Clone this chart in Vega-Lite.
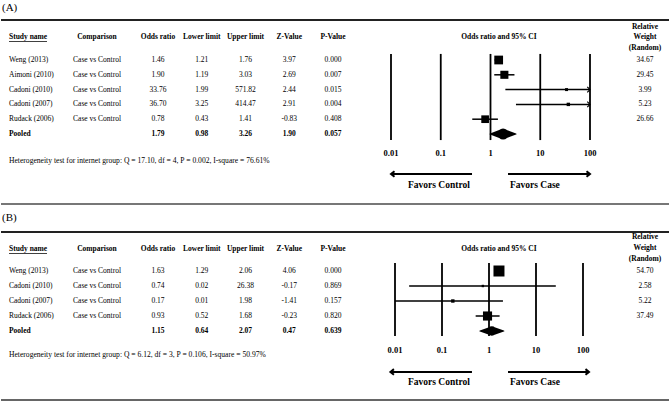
{
  "$schema": "https://vega.github.io/schema/vega-lite/v6.json",
  "padding": 0,
  "spacing": 0,
  "background": "white",
  "config": {
    "view": {"stroke": null},
    "font": "Liberation Serif",
    "axis": {"disable": true},
    "legend": {"disable": true},
    "text": {"font": "Liberation Serif", "color": "black", "fontSize": 7.5},
    "locale": {"number": {"decimal": ".", "thousands": ",", "grouping": [3], "currency": ["$", ""], "minus": "-"}}
  },
  "datasets": {
    "A": [
      {"Study name": "Weng (2013)", "Comparison": "Case vs Control", "Odds ratio": 1.46, "Lower limit": 1.21, "Upper limit": 1.76, "Z-Value": 3.97, "P-Value": 0.000, "Relative Weight": 34.67, "row": 1},
      {"Study name": "Aimoni (2010)", "Comparison": "Case vs Control", "Odds ratio": 1.90, "Lower limit": 1.19, "Upper limit": 3.03, "Z-Value": 2.69, "P-Value": 0.007, "Relative Weight": 29.45, "row": 2},
      {"Study name": "Cadoni (2010)", "Comparison": "Case vs Control", "Odds ratio": 33.76, "Lower limit": 1.99, "Upper limit": 571.82, "Z-Value": 2.44, "P-Value": 0.015, "Relative Weight": 3.99, "row": 3},
      {"Study name": "Cadoni (2007)", "Comparison": "Case vs Control", "Odds ratio": 36.70, "Lower limit": 3.25, "Upper limit": 414.47, "Z-Value": 2.91, "P-Value": 0.004, "Relative Weight": 5.23, "row": 4},
      {"Study name": "Rudack (2006)", "Comparison": "Case vs Control", "Odds ratio": 0.78, "Lower limit": 0.43, "Upper limit": 1.41, "Z-Value": -0.83, "P-Value": 0.408, "Relative Weight": 26.66, "row": 5},
      {"Study name": "Pooled", "Comparison": "", "Odds ratio": 1.79, "Lower limit": 0.98, "Upper limit": 3.26, "Z-Value": 1.90, "P-Value": 0.057, "Relative Weight": null, "row": 6}
    ],
    "B": [
      {"Study name": "Weng (2013)", "Comparison": "Case vs Control", "Odds ratio": 1.63, "Lower limit": 1.29, "Upper limit": 2.06, "Z-Value": 4.06, "P-Value": 0.000, "Relative Weight": 54.70, "row": 1},
      {"Study name": "Cadoni (2010)", "Comparison": "Case vs Control", "Odds ratio": 0.74, "Lower limit": 0.02, "Upper limit": 26.38, "Z-Value": -0.17, "P-Value": 0.869, "Relative Weight": 2.58, "row": 2},
      {"Study name": "Cadoni (2007)", "Comparison": "Case vs Control", "Odds ratio": 0.17, "Lower limit": 0.01, "Upper limit": 1.98, "Z-Value": -1.41, "P-Value": 0.157, "Relative Weight": 5.22, "row": 3},
      {"Study name": "Rudack (2006)", "Comparison": "Case vs Control", "Odds ratio": 0.93, "Lower limit": 0.52, "Upper limit": 1.68, "Z-Value": -0.23, "P-Value": 0.820, "Relative Weight": 37.49, "row": 4},
      {"Study name": "Pooled", "Comparison": "", "Odds ratio": 1.15, "Lower limit": 0.64, "Upper limit": 2.07, "Z-Value": 0.47, "P-Value": 0.639, "Relative Weight": null, "row": 5}
    ]
  },
  "vconcat": [
    {
      "width": 669,
      "height": 206,
      "resolve": {"scale": {"x": "independent"}},
      "layer": [
        {"data": {"values": [{}]}, "mark": {"type": "rule", "stroke": "#222", "strokeWidth": 2},
          "encoding": {"y": {"datum": -1.7, "type": "quantitative", "scale": {"domain": [-3.054, 10.865], "reverse": true, "nice": false, "zero": false}}}},
        {"data": {"values": [{}]}, "mark": {"type": "rule", "stroke": "#777", "strokeWidth": 2},
          "encoding": {"y": {"datum": 10.73, "type": "quantitative"}}},
        {
          "data": {"name": "A"},
          "layer": [
            {"transform": [{"filter": "datum['Study name'] !== 'Pooled'"}],
              "mark": {"type": "text", "align": "left"},
              "encoding": {
                "x": {"datum": "Study name", "type": "nominal", "scale": {"type": "point", "domain": ["Study name", "Comparison"], "range": [8, 96], "padding": 0}},
                "y": {"field": "row", "type": "quantitative"},
                "text": {"field": "Study name"}}},
            {"transform": [{"filter": "datum['Study name'] === 'Pooled'"}],
              "mark": {"type": "text", "align": "left", "fontWeight": "bold"},
              "encoding": {"x": {"datum": "Study name", "type": "nominal"}, "y": {"field": "row", "type": "quantitative"}, "text": {"field": "Study name"}}},
            {"mark": {"type": "text"},
              "encoding": {"x": {"datum": "Comparison", "type": "nominal"}, "y": {"field": "row", "type": "quantitative"}, "text": {"field": "Comparison"}}},
            {"data": {"values": [{}]}, "mark": {"type": "text", "align": "left", "fontWeight": "bold", "text": "Study name"},
              "encoding": {"x": {"datum": "Study name", "type": "nominal"}, "y": {"datum": -0.55}}},
            {"data": {"values": [{}]}, "mark": {"type": "tick", "orient": "horizontal", "size": 38, "thickness": 0.8, "xOffset": 19, "yOffset": 4.5, "color": "black", "opacity": 1},
              "encoding": {"x": {"datum": "Study name", "type": "nominal"}, "y": {"datum": -0.55}}},
            {"data": {"values": [{}]}, "mark": {"type": "text", "fontWeight": "bold", "text": "Comparison"},
              "encoding": {"x": {"datum": "Comparison", "type": "nominal"}, "y": {"datum": -0.55}}},
            {"data": {"values": [{}]}, "mark": {"type": "text", "align": "left", "fontSize": 11, "dx": -7, "text": "(A)"},
              "encoding": {"x": {"datum": "Study name", "type": "nominal"}, "y": {"datum": -2.51}}},
            {"data": {"values": [{}]}, "mark": {"type": "text", "align": "left", "fontSize": 7.6, "text": "Heterogeneity test for internet group: Q = 17.10, df = 4, P = 0.002, I-square = 76.61%"},
              "encoding": {"x": {"datum": "Study name", "type": "nominal"}, "y": {"datum": 7.82}}}
          ]
        },
        {
          "data": {"name": "A"},
          "layer": [
            {"transform": [{"filter": "datum['Study name'] !== 'Pooled'"}, {"fold": ["Odds ratio", "Lower limit", "Upper limit", "Z-Value"], "as": ["col", "val"]}],
              "mark": {"type": "text"},
              "encoding": {
                "x": {"field": "col", "type": "nominal", "scale": {"type": "point", "domain": ["Odds ratio", "Lower limit", "Upper limit", "Z-Value", "P-Value"], "range": [157, 332], "padding": 0}},
                "y": {"field": "row", "type": "quantitative"},
                "text": {"field": "val", "type": "quantitative", "format": ".2f"}}},
            {"transform": [{"filter": "datum['Study name'] === 'Pooled'"}, {"fold": ["Odds ratio", "Lower limit", "Upper limit", "Z-Value"], "as": ["col", "val"]}],
              "mark": {"type": "text", "fontWeight": "bold"},
              "encoding": {"x": {"field": "col", "type": "nominal"}, "y": {"field": "row", "type": "quantitative"}, "text": {"field": "val", "type": "quantitative", "format": ".2f"}}},
            {"transform": [{"filter": "datum['Study name'] !== 'Pooled'"}],
              "mark": {"type": "text"},
              "encoding": {"x": {"datum": "P-Value", "type": "nominal"}, "y": {"field": "row", "type": "quantitative"}, "text": {"field": "P-Value", "type": "quantitative", "format": ".3f"}}},
            {"transform": [{"filter": "datum['Study name'] === 'Pooled'"}],
              "mark": {"type": "text", "fontWeight": "bold"},
              "encoding": {"x": {"datum": "P-Value", "type": "nominal"}, "y": {"field": "row", "type": "quantitative"}, "text": {"field": "P-Value", "type": "quantitative", "format": ".3f"}}},
            {"transform": [{"fold": ["Odds ratio", "Lower limit", "Upper limit", "Z-Value", "P-Value"], "as": ["col", "val"]}, {"aggregate": [{"op": "count", "as": "n"}], "groupby": ["col"]}],
              "mark": {"type": "text", "fontWeight": "bold"},
              "encoding": {"x": {"field": "col", "type": "nominal"}, "y": {"datum": -0.55}, "text": {"field": "col"}}}
          ]
        },
        {
          "data": {"name": "A"},
          "layer": [
            {"transform": [{"filter": "isValid(datum['Relative Weight'])"}],
              "mark": {"type": "text"},
              "encoding": {
                "x": {"datum": "Relative Weight", "type": "nominal", "scale": {"type": "point", "domain": ["Relative Weight"], "range": [644, 644], "padding": 0}},
                "y": {"field": "row", "type": "quantitative"},
                "text": {"field": "Relative Weight", "type": "quantitative", "format": ".2f"}}},
            {"data": {"values": [{}]}, "mark": {"type": "text", "fontWeight": "bold", "lineHeight": 10.5, "text": ["Relative", "Weight", "(Random)"]},
              "encoding": {"x": {"datum": "Relative Weight", "type": "nominal"}, "y": {"datum": -1.23}}}
          ]
        },
        {
          "data": {"name": "A"},
          "layer": [
            {"data": {"values": [{"t": 0.01}, {"t": 0.1}, {"t": 1}, {"t": 10}, {"t": 100}]},
              "mark": {"type": "rule", "strokeWidth": 1.8, "color": "black"},
              "encoding": {
                "x": {"field": "t", "type": "quantitative", "scale": {"type": "log", "domain": [0.01, 100], "range": [390, 589], "clamp": true, "nice": false}},
                "y": {"datum": 0.59}, "y2": {"datum": 6.41}}},
            {"data": {"values": [{"t": 0.01}, {"t": 0.1}, {"t": 1}, {"t": 10}, {"t": 100}]},
              "mark": {"type": "text", "fontSize": 8.5, "fontWeight": "bold"},
              "encoding": {"x": {"field": "t", "type": "quantitative"}, "y": {"datum": 7.28}, "text": {"field": "t", "type": "quantitative", "format": "~g"}}},
            {"transform": [{"filter": "datum['Study name'] !== 'Pooled'"}],
              "mark": {"type": "rule", "strokeWidth": 1.5, "color": "black"},
              "encoding": {"x": {"field": "Lower limit", "type": "quantitative"}, "x2": {"field": "Upper limit"}, "y": {"field": "row", "type": "quantitative"}}},
            {"transform": [{"filter": "datum['Study name'] !== 'Pooled'"}],
              "mark": {"type": "point", "shape": "square", "filled": true, "color": "black", "opacity": 1, "strokeWidth": 0},
              "encoding": {"x": {"field": "Odds ratio", "type": "quantitative"}, "y": {"field": "row", "type": "quantitative"},
                "size": {"field": "Relative Weight", "type": "quantitative", "scale": {"domain": [0, 34.67], "range": [0, 121], "zero": true}, "legend": null}}},
            {"transform": [{"filter": "datum['Upper limit'] > 100"}],
              "mark": {"type": "point", "shape": "M-1,-1L0,0L-1,1", "filled": false, "color": "black", "opacity": 1, "size": 30, "strokeWidth": 1.2},
              "encoding": {"x": {"field": "Upper limit", "type": "quantitative"}, "y": {"field": "row", "type": "quantitative"}}},
            {"transform": [{"filter": "datum['Study name'] === 'Pooled'"}, {"fold": ["Lower limit", "Odds ratio", "Upper limit"], "as": ["col", "val"]}],
              "mark": {"type": "trail", "color": "black"},
              "encoding": {"x": {"field": "val", "type": "quantitative"}, "y": {"field": "row", "type": "quantitative"},
                "size": {"condition": {"test": "datum.col === 'Odds ratio'", "value": 11}, "value": 0}}},
            {"data": {"values": [{}]}, "mark": {"type": "text", "fontWeight": "bold", "text": "Odds ratio and 95% CI"},
              "encoding": {"x": {"datum": 1.48, "type": "quantitative"}, "y": {"datum": -0.55}}},
            {"data": {"values": [{}]}, "mark": {"type": "rule", "strokeWidth": 2, "color": "black"},
              "encoding": {"x": {"datum": 0.425, "type": "quantitative"}, "x2": {"datum": 0.01}, "y": {"datum": 8.7}}},
            {"data": {"values": [{}]}, "mark": {"type": "rule", "strokeWidth": 2, "color": "black"},
              "encoding": {"x": {"datum": 2.25, "type": "quantitative"}, "x2": {"datum": 100}, "y": {"datum": 8.7}}},
            {"data": {"values": [{}]}, "mark": {"type": "point", "shape": "M1,-0.8L0,0L1,0.8", "filled": false, "color": "black", "opacity": 1, "size": 49, "strokeWidth": 2},
              "encoding": {"x": {"datum": 0.01, "type": "quantitative"}, "y": {"datum": 8.7}}},
            {"data": {"values": [{}]}, "mark": {"type": "point", "shape": "M-1,-0.8L0,0L-1,0.8", "filled": false, "color": "black", "opacity": 1, "size": 49, "strokeWidth": 2},
              "encoding": {"x": {"datum": 100, "type": "quantitative"}, "y": {"datum": 8.7}}},
            {"data": {"values": [{}]}, "mark": {"type": "text", "fontWeight": "bold", "fontSize": 9.5, "text": "Favors Control"},
              "encoding": {"x": {"datum": 0.092, "type": "quantitative"}, "y": {"datum": 9.45}}},
            {"data": {"values": [{}]}, "mark": {"type": "text", "fontWeight": "bold", "fontSize": 9.5, "text": "Favors Case"},
              "encoding": {"x": {"datum": 7.8, "type": "quantitative"}, "y": {"datum": 9.45}}}
          ]
        }
      ]
    },
    {
      "width": 669,
      "height": 196,
      "resolve": {"scale": {"x": "independent"}},
      "layer": [
        {"data": {"values": [{}]}, "mark": {"type": "rule", "stroke": "#222", "strokeWidth": 2},
          "encoding": {"y": {"datum": -1.6, "type": "quantitative", "scale": {"domain": [-3.333, 9.733], "reverse": true, "nice": false, "zero": false}}}},
        {"data": {"values": [{}]}, "mark": {"type": "rule", "stroke": "#666", "strokeWidth": 2},
          "encoding": {"y": {"datum": 9.6, "type": "quantitative"}}},
        {
          "data": {"name": "B"},
          "layer": [
            {"transform": [{"filter": "datum['Study name'] !== 'Pooled'"}],
              "mark": {"type": "text", "align": "left"},
              "encoding": {
                "x": {"datum": "Study name", "type": "nominal", "scale": {"type": "point", "domain": ["Study name", "Comparison"], "range": [8, 96], "padding": 0}},
                "y": {"field": "row", "type": "quantitative"},
                "text": {"field": "Study name"}}},
            {"transform": [{"filter": "datum['Study name'] === 'Pooled'"}],
              "mark": {"type": "text", "align": "left", "fontWeight": "bold"},
              "encoding": {"x": {"datum": "Study name", "type": "nominal"}, "y": {"field": "row", "type": "quantitative"}, "text": {"field": "Study name"}}},
            {"mark": {"type": "text"},
              "encoding": {"x": {"datum": "Comparison", "type": "nominal"}, "y": {"field": "row", "type": "quantitative"}, "text": {"field": "Comparison"}}},
            {"data": {"values": [{}]}, "mark": {"type": "text", "align": "left", "fontWeight": "bold", "text": "Study name"},
              "encoding": {"x": {"datum": "Study name", "type": "nominal"}, "y": {"datum": -0.47}}},
            {"data": {"values": [{}]}, "mark": {"type": "tick", "orient": "horizontal", "size": 38, "thickness": 0.8, "xOffset": 19, "yOffset": 4.5, "color": "black", "opacity": 1},
              "encoding": {"x": {"datum": "Study name", "type": "nominal"}, "y": {"datum": -0.47}}},
            {"data": {"values": [{}]}, "mark": {"type": "text", "fontWeight": "bold", "text": "Comparison"},
              "encoding": {"x": {"datum": "Comparison", "type": "nominal"}, "y": {"datum": -0.47}}},
            {"data": {"values": [{}]}, "mark": {"type": "text", "align": "left", "fontSize": 11, "dx": -7, "text": "(B)"},
              "encoding": {"x": {"datum": "Study name", "type": "nominal"}, "y": {"datum": -2.53}}},
            {"data": {"values": [{}]}, "mark": {"type": "text", "align": "left", "fontSize": 7.6, "text": "Heterogeneity test for internet group: Q = 6.12, df = 3, P = 0.106, I-square = 50.97%"},
              "encoding": {"x": {"datum": "Study name", "type": "nominal"}, "y": {"datum": 6.6}}}
          ]
        },
        {
          "data": {"name": "B"},
          "layer": [
            {"transform": [{"filter": "datum['Study name'] !== 'Pooled'"}, {"fold": ["Odds ratio", "Lower limit", "Upper limit", "Z-Value"], "as": ["col", "val"]}],
              "mark": {"type": "text"},
              "encoding": {
                "x": {"field": "col", "type": "nominal", "scale": {"type": "point", "domain": ["Odds ratio", "Lower limit", "Upper limit", "Z-Value", "P-Value"], "range": [157, 332], "padding": 0}},
                "y": {"field": "row", "type": "quantitative"},
                "text": {"field": "val", "type": "quantitative", "format": ".2f"}}},
            {"transform": [{"filter": "datum['Study name'] === 'Pooled'"}, {"fold": ["Odds ratio", "Lower limit", "Upper limit", "Z-Value"], "as": ["col", "val"]}],
              "mark": {"type": "text", "fontWeight": "bold"},
              "encoding": {"x": {"field": "col", "type": "nominal"}, "y": {"field": "row", "type": "quantitative"}, "text": {"field": "val", "type": "quantitative", "format": ".2f"}}},
            {"transform": [{"filter": "datum['Study name'] !== 'Pooled'"}],
              "mark": {"type": "text"},
              "encoding": {"x": {"datum": "P-Value", "type": "nominal"}, "y": {"field": "row", "type": "quantitative"}, "text": {"field": "P-Value", "type": "quantitative", "format": ".3f"}}},
            {"transform": [{"filter": "datum['Study name'] === 'Pooled'"}],
              "mark": {"type": "text", "fontWeight": "bold"},
              "encoding": {"x": {"datum": "P-Value", "type": "nominal"}, "y": {"field": "row", "type": "quantitative"}, "text": {"field": "P-Value", "type": "quantitative", "format": ".3f"}}},
            {"transform": [{"fold": ["Odds ratio", "Lower limit", "Upper limit", "Z-Value", "P-Value"], "as": ["col", "val"]}, {"aggregate": [{"op": "count", "as": "n"}], "groupby": ["col"]}],
              "mark": {"type": "text", "fontWeight": "bold"},
              "encoding": {"x": {"field": "col", "type": "nominal"}, "y": {"datum": -0.47}, "text": {"field": "col"}}}
          ]
        },
        {
          "data": {"name": "B"},
          "layer": [
            {"transform": [{"filter": "isValid(datum['Relative Weight'])"}],
              "mark": {"type": "text"},
              "encoding": {
                "x": {"datum": "Relative Weight", "type": "nominal", "scale": {"type": "point", "domain": ["Relative Weight"], "range": [644, 644], "padding": 0}},
                "y": {"field": "row", "type": "quantitative"},
                "text": {"field": "Relative Weight", "type": "quantitative", "format": ".2f"}}},
            {"data": {"values": [{}]}, "mark": {"type": "text", "fontWeight": "bold", "lineHeight": 10.8, "text": ["Relative", "Weight", "(Random)"]},
              "encoding": {"x": {"datum": "Relative Weight", "type": "nominal"}, "y": {"datum": -1.27}}}
          ]
        },
        {
          "data": {"name": "B"},
          "layer": [
            {"data": {"values": [{"t": 0.01}, {"t": 0.1}, {"t": 1}, {"t": 10}, {"t": 100}]},
              "mark": {"type": "rule", "strokeWidth": 1.8, "color": "black"},
              "encoding": {
                "x": {"field": "t", "type": "quantitative", "scale": {"type": "log", "domain": [0.01, 100], "range": [394, 582], "nice": false}},
                "y": {"datum": 0.47}, "y2": {"datum": 5.33}}},
            {"data": {"values": [{"t": 0.01}, {"t": 0.1}, {"t": 1}, {"t": 10}, {"t": 100}]},
              "mark": {"type": "text", "fontSize": 8.5, "fontWeight": "bold"},
              "encoding": {"x": {"field": "t", "type": "quantitative"}, "y": {"datum": 6.27}, "text": {"field": "t", "type": "quantitative", "format": "~g"}}},
            {"transform": [{"filter": "datum['Study name'] !== 'Pooled'"}],
              "mark": {"type": "rule", "strokeWidth": 1.5, "color": "black"},
              "encoding": {"x": {"field": "Lower limit", "type": "quantitative"}, "x2": {"field": "Upper limit"}, "y": {"field": "row", "type": "quantitative"}}},
            {"transform": [{"filter": "datum['Study name'] !== 'Pooled'"}],
              "mark": {"type": "point", "shape": "square", "filled": true, "color": "black", "opacity": 1, "strokeWidth": 0},
              "encoding": {"x": {"field": "Odds ratio", "type": "quantitative"}, "y": {"field": "row", "type": "quantitative"},
                "size": {"field": "Relative Weight", "type": "quantitative", "scale": {"domain": [0, 54.7], "range": [0, 144], "zero": true}, "legend": null}}},
            {"transform": [{"filter": "datum['Study name'] === 'Pooled'"}, {"fold": ["Lower limit", "Odds ratio", "Upper limit"], "as": ["col", "val"]}],
              "mark": {"type": "trail", "color": "black"},
              "encoding": {"x": {"field": "val", "type": "quantitative"}, "y": {"field": "row", "type": "quantitative"},
                "size": {"condition": {"test": "datum.col === 'Odds ratio'", "value": 9.5}, "value": 0}}},
            {"data": {"values": [{}]}, "mark": {"type": "text", "fontWeight": "bold", "text": "Odds ratio and 95% CI"},
              "encoding": {"x": {"datum": 1.63, "type": "quantitative"}, "y": {"datum": -0.47}}},
            {"data": {"values": [{}]}, "mark": {"type": "rule", "strokeWidth": 2, "color": "black"},
              "encoding": {"x": {"datum": 0.434, "type": "quantitative"}, "x2": {"datum": 0.008}, "y": {"datum": 7.73}}},
            {"data": {"values": [{}]}, "mark": {"type": "rule", "strokeWidth": 2, "color": "black"},
              "encoding": {"x": {"datum": 2.54, "type": "quantitative"}, "x2": {"datum": 134}, "y": {"datum": 7.73}}},
            {"data": {"values": [{}]}, "mark": {"type": "point", "shape": "M1,-0.8L0,0L1,0.8", "filled": false, "color": "black", "opacity": 1, "size": 49, "strokeWidth": 2},
              "encoding": {"x": {"datum": 0.008, "type": "quantitative"}, "y": {"datum": 7.73}}},
            {"data": {"values": [{}]}, "mark": {"type": "point", "shape": "M-1,-0.8L0,0L-1,0.8", "filled": false, "color": "black", "opacity": 1, "size": 49, "strokeWidth": 2},
              "encoding": {"x": {"datum": 134, "type": "quantitative"}, "y": {"datum": 7.73}}},
            {"data": {"values": [{}]}, "mark": {"type": "text", "fontWeight": "bold", "fontSize": 9.5, "text": "Favors Control"},
              "encoding": {"x": {"datum": 0.086, "type": "quantitative"}, "y": {"datum": 8.4}}},
            {"data": {"values": [{}]}, "mark": {"type": "text", "fontWeight": "bold", "fontSize": 9.5, "text": "Favors Case"},
              "encoding": {"x": {"datum": 9.5, "type": "quantitative"}, "y": {"datum": 8.4}}}
          ]
        }
      ]
    }
  ]
}
